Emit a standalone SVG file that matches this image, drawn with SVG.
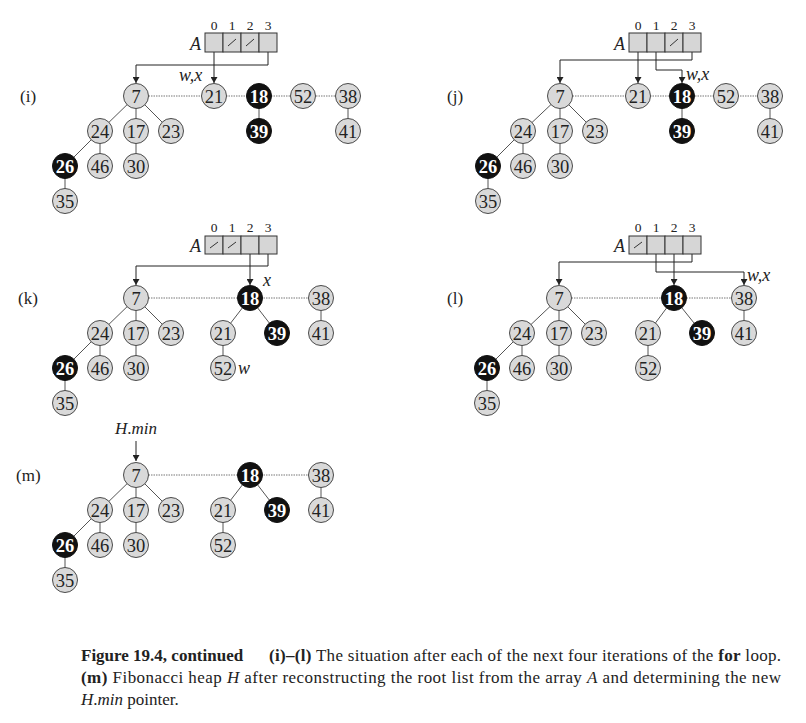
<svg xmlns="http://www.w3.org/2000/svg" width="806" height="723" viewBox="0 0 806 723">
<defs>
<marker id="ah" markerWidth="6" markerHeight="7" refX="6" refY="3.5" orient="auto" markerUnits="userSpaceOnUse"><path d="M0,0 L6,3.5 L0,7 z" fill="#222"/></marker>
<style>
.n circle{fill:#d9d9d9;stroke:#4a4a4a;stroke-width:1}
.n text{font-family:"Liberation Serif",serif;font-size:18.5px;fill:#222;text-anchor:middle}
.b circle{fill:#111;stroke:#111}
.b text{fill:#fff;font-weight:bold}
.e{stroke:#555;stroke-width:1}
.d{stroke:#777;stroke-width:1;stroke-dasharray:1.5 1}
.p{fill:none;stroke:#222;stroke-width:1;marker-end:url(#ah)}
.cell{fill:#d6d6d6;stroke:#333;stroke-width:1}
.sl{stroke:#333;stroke-width:1}
.idx{font-family:"Liberation Serif",serif;font-size:13.5px;fill:#222;text-anchor:middle}
.lab{font-family:"Liberation Serif",serif;font-size:17px;fill:#222}
.it{font-family:"Liberation Serif",serif;font-size:18px;font-style:italic;fill:#222}
.A{font-family:"Liberation Serif",serif;font-size:18px;font-style:italic;fill:#222;text-anchor:end}
.cap{font-family:"Liberation Serif",serif;font-size:17px;fill:#222}
</style>
</defs>
<rect width="806" height="723" fill="#fff"/>

<!-- connectors -->
<g id="connectors">
<!-- panel i -->
<line class="d" x1="136" y1="96" x2="348" y2="96"/>
<line class="e" x1="136" y1="96" x2="100" y2="131"/><line class="e" x1="136" y1="96" x2="136" y2="131"/><line class="e" x1="136" y1="96" x2="171" y2="131"/>
<line class="e" x1="100" y1="131" x2="65" y2="166"/><line class="e" x1="100" y1="131" x2="100" y2="166"/><line class="e" x1="136" y1="131" x2="136" y2="166"/>
<line class="e" x1="65" y1="166" x2="65" y2="201"/><line class="e" x1="259" y1="96" x2="259" y2="131"/><line class="e" x1="348" y1="96" x2="348" y2="131"/>
<path class="p" d="M214,43 V83"/>
<path class="p" d="M268,43 V65 H136 V83"/>
<!-- panel j -->
<line class="d" x1="560" y1="96" x2="770" y2="96"/>
<line class="e" x1="560" y1="96" x2="523" y2="131"/><line class="e" x1="560" y1="96" x2="560" y2="131"/><line class="e" x1="560" y1="96" x2="595" y2="131"/>
<line class="e" x1="523" y1="131" x2="488" y2="166"/><line class="e" x1="523" y1="131" x2="523" y2="166"/><line class="e" x1="560" y1="131" x2="560" y2="166"/>
<line class="e" x1="488" y1="166" x2="488" y2="201"/><line class="e" x1="682" y1="96" x2="682" y2="131"/><line class="e" x1="770" y1="96" x2="770" y2="131"/>
<path class="p" d="M638,43 V83"/>
<path class="p" d="M656,43 V70 H682 V83"/>
<path class="p" d="M692,43 V60 H560 V83"/>
<!-- panel k -->
<line class="d" x1="136" y1="298" x2="321" y2="298"/>
<line class="e" x1="136" y1="298" x2="100" y2="333"/><line class="e" x1="136" y1="298" x2="136" y2="333"/><line class="e" x1="136" y1="298" x2="171" y2="333"/>
<line class="e" x1="100" y1="333" x2="65" y2="368"/><line class="e" x1="100" y1="333" x2="100" y2="368"/><line class="e" x1="136" y1="333" x2="136" y2="368"/>
<line class="e" x1="65" y1="368" x2="65" y2="403"/>
<line class="e" x1="250" y1="298" x2="223" y2="333"/><line class="e" x1="250" y1="298" x2="277" y2="333"/><line class="e" x1="223" y1="333" x2="223" y2="368"/>
<line class="e" x1="321" y1="298" x2="321" y2="333"/>
<path class="p" d="M250,245 V285"/>
<path class="p" d="M268,245 V266 H136 V285"/>
<!-- panel l -->
<line class="d" x1="559" y1="298" x2="744" y2="298"/>
<line class="e" x1="559" y1="298" x2="522" y2="333"/><line class="e" x1="559" y1="298" x2="559" y2="333"/><line class="e" x1="559" y1="298" x2="594" y2="333"/>
<line class="e" x1="522" y1="333" x2="487" y2="368"/><line class="e" x1="522" y1="333" x2="522" y2="368"/><line class="e" x1="559" y1="333" x2="559" y2="368"/>
<line class="e" x1="487" y1="368" x2="487" y2="403"/>
<line class="e" x1="674" y1="298" x2="648" y2="333"/><line class="e" x1="674" y1="298" x2="702" y2="333"/><line class="e" x1="648" y1="333" x2="648" y2="368"/>
<line class="e" x1="744" y1="298" x2="744" y2="333"/>
<path class="p" d="M656,245 V272 H744 V285"/>
<path class="p" d="M674,245 V285"/>
<path class="p" d="M692,245 V262 H559 V285"/>
<!-- panel m -->
<line class="d" x1="136" y1="475" x2="321" y2="475"/>
<line class="e" x1="136" y1="475" x2="100" y2="510"/><line class="e" x1="136" y1="475" x2="136" y2="510"/><line class="e" x1="136" y1="475" x2="171" y2="510"/>
<line class="e" x1="100" y1="510" x2="65" y2="545"/><line class="e" x1="100" y1="510" x2="100" y2="545"/><line class="e" x1="136" y1="510" x2="136" y2="545"/>
<line class="e" x1="65" y1="545" x2="65" y2="580"/>
<line class="e" x1="250" y1="475" x2="223" y2="510"/><line class="e" x1="250" y1="475" x2="277" y2="510"/><line class="e" x1="223" y1="510" x2="223" y2="545"/>
<line class="e" x1="321" y1="475" x2="321" y2="510"/>
<path class="p" d="M136,441 V461"/>
</g>

<!-- arrays -->
<g id="array-i">
<rect class="cell" x="205" y="33" width="18" height="19"/><rect class="cell" x="223" y="33" width="18" height="19"/><rect class="cell" x="241" y="33" width="18" height="19"/><rect class="cell" x="259" y="33" width="18" height="19"/>
<line class="sl" x1="228" y1="46" x2="236" y2="39"/><line class="sl" x1="246" y1="46" x2="254" y2="39"/>
<text class="idx" x="214" y="30">0</text><text class="idx" x="232" y="30">1</text><text class="idx" x="250" y="30">2</text><text class="idx" x="268" y="30">3</text>
<text class="A" x="201" y="50">A</text>
</g>
<g id="array-j">
<rect class="cell" x="629" y="33" width="18" height="19"/><rect class="cell" x="647" y="33" width="18" height="19"/><rect class="cell" x="665" y="33" width="18" height="19"/><rect class="cell" x="683" y="33" width="18" height="19"/>
<line class="sl" x1="670" y1="46" x2="678" y2="39"/>
<text class="idx" x="638" y="30">0</text><text class="idx" x="656" y="30">1</text><text class="idx" x="674" y="30">2</text><text class="idx" x="692" y="30">3</text>
<text class="A" x="625" y="50">A</text>
</g>
<g id="array-k">
<rect class="cell" x="205" y="236" width="18" height="18"/><rect class="cell" x="223" y="236" width="18" height="18"/><rect class="cell" x="241" y="236" width="18" height="18"/><rect class="cell" x="259" y="236" width="18" height="18"/>
<line class="sl" x1="210" y1="248" x2="218" y2="242"/><line class="sl" x1="228" y1="248" x2="236" y2="242"/>
<text class="idx" x="214" y="232">0</text><text class="idx" x="232" y="232">1</text><text class="idx" x="250" y="232">2</text><text class="idx" x="268" y="232">3</text>
<text class="A" x="201" y="252">A</text>
</g>
<g id="array-l">
<rect class="cell" x="629" y="236" width="18" height="18"/><rect class="cell" x="647" y="236" width="18" height="18"/><rect class="cell" x="665" y="236" width="18" height="18"/><rect class="cell" x="683" y="236" width="18" height="18"/>
<line class="sl" x1="634" y1="248" x2="642" y2="242"/>
<text class="idx" x="638" y="232">0</text><text class="idx" x="656" y="232">1</text><text class="idx" x="674" y="232">2</text><text class="idx" x="692" y="232">3</text>
<text class="A" x="625" y="252">A</text>
</g>

<!-- labels -->
<g id="labels">
<text class="lab" x="20" y="102">(i)</text>
<text class="lab" x="447" y="102">(j)</text>
<text class="lab" x="18" y="304">(k)</text>
<text class="lab" x="447" y="304">(l)</text>
<text class="lab" x="16" y="481">(m)</text>
<text class="it" x="179" y="81">w,x</text>
<text class="it" x="686" y="80">w,x</text>
<text class="it" x="263" y="286">x</text>
<text class="it" x="238" y="374">w</text>
<text class="it" x="747" y="281">w,x</text>
<text class="lab" x="136" y="434" text-anchor="middle"><tspan font-style="italic">H</tspan>.<tspan font-style="italic">min</tspan></text>
</g>

<!-- panel i nodes -->
<g id="i-7" class="n"><circle cx="136" cy="96" r="12.5"/><text x="136" y="102.5">7</text></g>
<g id="i-21" class="n"><circle cx="214" cy="96" r="12.5"/><text x="214" y="102.5">21</text></g>
<g id="i-18" class="n b"><circle cx="259" cy="96" r="12.5"/><text x="259" y="102.5">18</text></g>
<g id="i-52" class="n"><circle cx="303" cy="96" r="12.5"/><text x="303" y="102.5">52</text></g>
<g id="i-38" class="n"><circle cx="348" cy="96" r="12.5"/><text x="348" y="102.5">38</text></g>
<g id="i-24" class="n"><circle cx="100" cy="131" r="12.5"/><text x="100" y="137.5">24</text></g>
<g id="i-17" class="n"><circle cx="136" cy="131" r="12.5"/><text x="136" y="137.5">17</text></g>
<g id="i-23" class="n"><circle cx="171" cy="131" r="12.5"/><text x="171" y="137.5">23</text></g>
<g id="i-39" class="n b"><circle cx="259" cy="131" r="12.5"/><text x="259" y="137.5">39</text></g>
<g id="i-41" class="n"><circle cx="348" cy="131" r="12.5"/><text x="348" y="137.5">41</text></g>
<g id="i-26" class="n b"><circle cx="65" cy="166" r="12.5"/><text x="65" y="172.5">26</text></g>
<g id="i-46" class="n"><circle cx="100" cy="166" r="12.5"/><text x="100" y="172.5">46</text></g>
<g id="i-30" class="n"><circle cx="136" cy="166" r="12.5"/><text x="136" y="172.5">30</text></g>
<g id="i-35" class="n"><circle cx="65" cy="201" r="12.5"/><text x="65" y="207.5">35</text></g>

<!-- panel j nodes -->
<g id="j-7" class="n"><circle cx="560" cy="96" r="12.5"/><text x="560" y="102.5">7</text></g>
<g id="j-21" class="n"><circle cx="638" cy="96" r="12.5"/><text x="638" y="102.5">21</text></g>
<g id="j-18" class="n b"><circle cx="682" cy="96" r="12.5"/><text x="682" y="102.5">18</text></g>
<g id="j-52" class="n"><circle cx="726" cy="96" r="12.5"/><text x="726" y="102.5">52</text></g>
<g id="j-38" class="n"><circle cx="770" cy="96" r="12.5"/><text x="770" y="102.5">38</text></g>
<g id="j-24" class="n"><circle cx="523" cy="131" r="12.5"/><text x="523" y="137.5">24</text></g>
<g id="j-17" class="n"><circle cx="560" cy="131" r="12.5"/><text x="560" y="137.5">17</text></g>
<g id="j-23" class="n"><circle cx="595" cy="131" r="12.5"/><text x="595" y="137.5">23</text></g>
<g id="j-39" class="n b"><circle cx="682" cy="131" r="12.5"/><text x="682" y="137.5">39</text></g>
<g id="j-41" class="n"><circle cx="770" cy="131" r="12.5"/><text x="770" y="137.5">41</text></g>
<g id="j-26" class="n b"><circle cx="488" cy="166" r="12.5"/><text x="488" y="172.5">26</text></g>
<g id="j-46" class="n"><circle cx="523" cy="166" r="12.5"/><text x="523" y="172.5">46</text></g>
<g id="j-30" class="n"><circle cx="560" cy="166" r="12.5"/><text x="560" y="172.5">30</text></g>
<g id="j-35" class="n"><circle cx="488" cy="201" r="12.5"/><text x="488" y="207.5">35</text></g>

<!-- panel k nodes -->
<g id="k-7" class="n"><circle cx="136" cy="298" r="12.5"/><text x="136" y="304.5">7</text></g>
<g id="k-18" class="n b"><circle cx="250" cy="298" r="12.5"/><text x="250" y="304.5">18</text></g>
<g id="k-38" class="n"><circle cx="321" cy="298" r="12.5"/><text x="321" y="304.5">38</text></g>
<g id="k-24" class="n"><circle cx="100" cy="333" r="12.5"/><text x="100" y="339.5">24</text></g>
<g id="k-17" class="n"><circle cx="136" cy="333" r="12.5"/><text x="136" y="339.5">17</text></g>
<g id="k-23" class="n"><circle cx="171" cy="333" r="12.5"/><text x="171" y="339.5">23</text></g>
<g id="k-21" class="n"><circle cx="223" cy="333" r="12.5"/><text x="223" y="339.5">21</text></g>
<g id="k-39" class="n b"><circle cx="277" cy="333" r="12.5"/><text x="277" y="339.5">39</text></g>
<g id="k-41" class="n"><circle cx="321" cy="333" r="12.5"/><text x="321" y="339.5">41</text></g>
<g id="k-26" class="n b"><circle cx="65" cy="368" r="12.5"/><text x="65" y="374.5">26</text></g>
<g id="k-46" class="n"><circle cx="100" cy="368" r="12.5"/><text x="100" y="374.5">46</text></g>
<g id="k-30" class="n"><circle cx="136" cy="368" r="12.5"/><text x="136" y="374.5">30</text></g>
<g id="k-52" class="n"><circle cx="223" cy="368" r="12.5"/><text x="223" y="374.5">52</text></g>
<g id="k-35" class="n"><circle cx="65" cy="403" r="12.5"/><text x="65" y="409.5">35</text></g>

<!-- panel l nodes -->
<g id="l-7" class="n"><circle cx="559" cy="298" r="12.5"/><text x="559" y="304.5">7</text></g>
<g id="l-18" class="n b"><circle cx="674" cy="298" r="12.5"/><text x="674" y="304.5">18</text></g>
<g id="l-38" class="n"><circle cx="744" cy="298" r="12.5"/><text x="744" y="304.5">38</text></g>
<g id="l-24" class="n"><circle cx="522" cy="333" r="12.5"/><text x="522" y="339.5">24</text></g>
<g id="l-17" class="n"><circle cx="559" cy="333" r="12.5"/><text x="559" y="339.5">17</text></g>
<g id="l-23" class="n"><circle cx="594" cy="333" r="12.5"/><text x="594" y="339.5">23</text></g>
<g id="l-21" class="n"><circle cx="648" cy="333" r="12.5"/><text x="648" y="339.5">21</text></g>
<g id="l-39" class="n b"><circle cx="702" cy="333" r="12.5"/><text x="702" y="339.5">39</text></g>
<g id="l-41" class="n"><circle cx="744" cy="333" r="12.5"/><text x="744" y="339.5">41</text></g>
<g id="l-26" class="n b"><circle cx="487" cy="368" r="12.5"/><text x="487" y="374.5">26</text></g>
<g id="l-46" class="n"><circle cx="522" cy="368" r="12.5"/><text x="522" y="374.5">46</text></g>
<g id="l-30" class="n"><circle cx="559" cy="368" r="12.5"/><text x="559" y="374.5">30</text></g>
<g id="l-52" class="n"><circle cx="648" cy="368" r="12.5"/><text x="648" y="374.5">52</text></g>
<g id="l-35" class="n"><circle cx="487" cy="403" r="12.5"/><text x="487" y="409.5">35</text></g>

<!-- panel m nodes -->
<g id="m-7" class="n"><circle cx="136" cy="475" r="12.5"/><text x="136" y="481.5">7</text></g>
<g id="m-18" class="n b"><circle cx="250" cy="475" r="12.5"/><text x="250" y="481.5">18</text></g>
<g id="m-38" class="n"><circle cx="321" cy="475" r="12.5"/><text x="321" y="481.5">38</text></g>
<g id="m-24" class="n"><circle cx="100" cy="510" r="12.5"/><text x="100" y="516.5">24</text></g>
<g id="m-17" class="n"><circle cx="136" cy="510" r="12.5"/><text x="136" y="516.5">17</text></g>
<g id="m-23" class="n"><circle cx="171" cy="510" r="12.5"/><text x="171" y="516.5">23</text></g>
<g id="m-21" class="n"><circle cx="223" cy="510" r="12.5"/><text x="223" y="516.5">21</text></g>
<g id="m-39" class="n b"><circle cx="277" cy="510" r="12.5"/><text x="277" y="516.5">39</text></g>
<g id="m-41" class="n"><circle cx="321" cy="510" r="12.5"/><text x="321" y="516.5">41</text></g>
<g id="m-26" class="n b"><circle cx="65" cy="545" r="12.5"/><text x="65" y="551.5">26</text></g>
<g id="m-46" class="n"><circle cx="100" cy="545" r="12.5"/><text x="100" y="551.5">46</text></g>
<g id="m-30" class="n"><circle cx="136" cy="545" r="12.5"/><text x="136" y="551.5">30</text></g>
<g id="m-52" class="n"><circle cx="223" cy="545" r="12.5"/><text x="223" y="551.5">52</text></g>
<g id="m-35" class="n"><circle cx="65" cy="580" r="12.5"/><text x="65" y="586.5">35</text></g>

<!-- caption -->
<g id="caption">
<text class="cap" x="81" y="661" font-weight="bold">Figure 19.4, continued</text>
<text class="cap" x="269" y="661" textLength="512" lengthAdjust="spacing"><tspan font-weight="bold">(i)–(l)</tspan> The situation after each of the next four iterations of the <tspan font-weight="bold">for</tspan> loop.</text>
<text class="cap" x="81" y="683" textLength="700" lengthAdjust="spacing"><tspan font-weight="bold">(m)</tspan> Fibonacci heap <tspan font-style="italic">H</tspan> after reconstructing the root list from the array <tspan font-style="italic">A</tspan> and determining the new</text>
<text class="cap" x="81" y="705"><tspan font-style="italic">H</tspan>.<tspan font-style="italic">min</tspan> pointer.</text>
</g>
</svg>
